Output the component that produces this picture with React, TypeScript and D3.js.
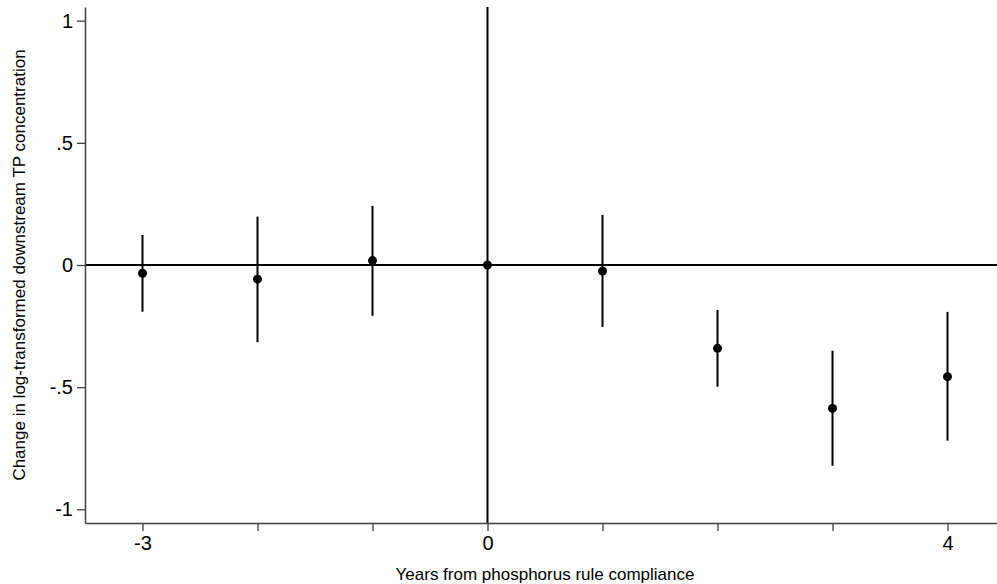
import React, { useEffect, useRef } from 'react';
import * as d3 from 'd3';

// event-study estimates
const years = [-3, -2, -1, 0, 1, 2, 3, 4];
const coef = [-0.034, -0.058, 0.018, 0, -0.025, -0.341, -0.587, -0.457];
const ciHigh = [0.123, 0.198, 0.242, 0, 0.205, -0.184, -0.351, -0.192];
const ciLow = [-0.191, -0.316, -0.208, 0, -0.254, -0.498, -0.822, -0.719];
const yTicks = [-1, -0.5, 0, 0.5, 1];
const xLabelled = [-3, 0, 4];

const W = 997;
const H = 584;
const FONT = '"Liberation Sans", Arial, Helvetica, sans-serif';

const App = () => {
  const ref = useRef<SVGSVGElement | null>(null);

  useEffect(() => {
    if (!ref.current) return;
    const svg = d3.select(ref.current);
    svg.selectAll('*').remove();

    const x = d3.scaleLinear().domain([-3.5, 4.5]).range([85, 1005]);
    const y = d3.scaleLinear().domain([-1.056, 1.056]).range([523, 7]);

    const rows = years.map((yr, i) => ({ yr, b: coef[i], hi: ciHigh[i], lo: ciLow[i] }));

    // reference lines
    svg.append('line')
      .attr('x1', x(-3.5)).attr('x2', x(4.5))
      .attr('y1', y(0)).attr('y2', y(0))
      .attr('stroke', '#000').attr('stroke-width', 2);
    svg.append('line')
      .attr('x1', x(0)).attr('x2', x(0))
      .attr('y1', y(1.056)).attr('y2', y(-1.056))
      .attr('stroke', '#000').attr('stroke-width', 2);

    // y axis
    const gy = svg.append('g')
      .attr('transform', `translate(${x(-3.5)},0)`)
      .call(d3.axisLeft(y).tickValues(yTicks).tickSize(8).tickSizeOuter(0).tickPadding(4)
        .tickFormat(d => {
          const v = +d;
          if (v === 0) return '0';
          if (Math.abs(v) === 1) return String(v);
          return v < 0 ? '-.5' : '.5';
        }));
    gy.select('.domain').attr('stroke', '#404040').attr('stroke-width', 1.5);
    gy.selectAll('.tick line').attr('stroke', '#404040').attr('stroke-width', 1.3);
    gy.selectAll('text').style('font-family', FONT).style('font-size', '20px').attr('fill', '#000');

    // x axis
    const gx = svg.append('g')
      .attr('transform', `translate(0,${y(-1.056)})`)
      .call(d3.axisBottom(x).tickValues(years).tickSize(8).tickSizeOuter(0).tickPadding(5)
        .tickFormat(d => (xLabelled.includes(+d) ? String(d) : '')));
    gx.select('.domain').attr('stroke', '#404040').attr('stroke-width', 1.5);
    gx.selectAll('.tick line').attr('stroke', '#404040').attr('stroke-width', 1.3);
    gx.selectAll('text').style('font-family', FONT).style('font-size', '20px').attr('fill', '#000');

    // confidence intervals
    svg.append('g')
      .selectAll('line')
      .data(rows.filter(d => d.hi !== d.lo))
      .enter()
      .append('line')
      .attr('x1', d => x(d.yr)).attr('x2', d => x(d.yr))
      .attr('y1', d => y(d.hi)).attr('y2', d => y(d.lo))
      .attr('stroke', '#000').attr('stroke-width', 2);

    // point estimates
    svg.append('g')
      .selectAll('circle')
      .data(rows)
      .enter()
      .append('circle')
      .attr('cx', d => x(d.yr))
      .attr('cy', d => y(d.b))
      .attr('r', 4.5)
      .attr('fill', '#000');

    // axis titles
    svg.append('text')
      .attr('x', (x(-3.5) + x(4.5)) / 2)
      .attr('y', 580)
      .attr('text-anchor', 'middle')
      .style('font-family', FONT)
      .style('font-size', '17px')
      .text('Years from phosphorus rule compliance');

    svg.append('text')
      .attr('transform', `translate(25,${y(0)}) rotate(-90)`)
      .attr('text-anchor', 'middle')
      .style('font-family', FONT)
      .style('font-size', '17px')
      .text('Change in log-transformed downstream TP concentration');
  }, []);

  return (
    <svg
      ref={ref}
      width={W}
      height={H}
      style={{ position: 'absolute', left: 0, top: 0, background: '#fff', display: 'block' }}
    />
  );
};

export default App;
